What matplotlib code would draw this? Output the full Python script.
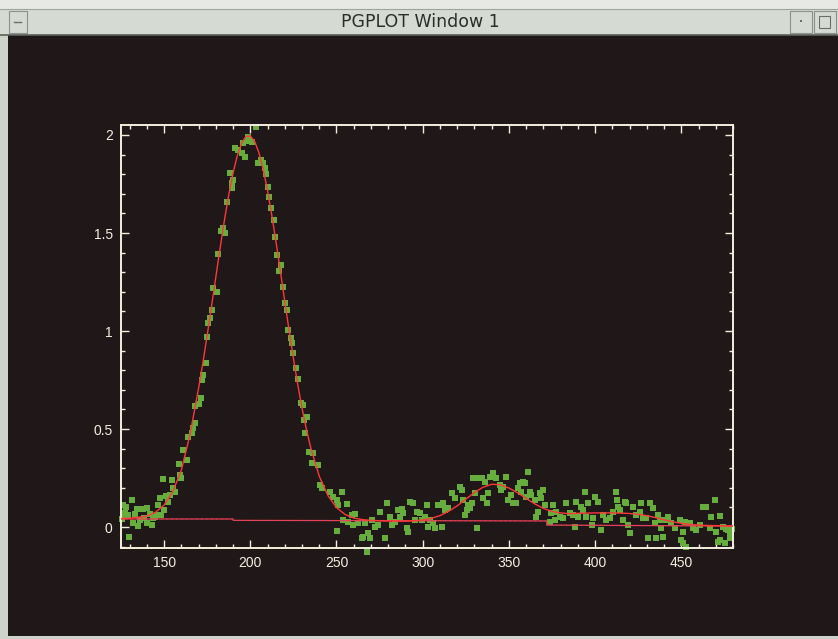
import matplotlib
matplotlib.use("Agg")
import matplotlib.pyplot as plt
from matplotlib.patches import Rectangle
from matplotlib.lines import Line2D
from matplotlib.ticker import MultipleLocator

W, H, DPI = 838, 639, 100

# ---- measured spectrum (channel, flux) ----
chan = [125.5, 126.0, 127.3, 128.0, 129.3, 129.8, 131.6, 132.0, 133.1, 134.0,
        135.0, 136.0, 137.9, 138.5, 139.9, 140.2, 141.8, 142.8, 143.7, 144.7,
        145.7, 146.5, 147.6, 148.3, 149.5, 149.9, 151.0, 152.4, 153.4, 154.4,
        155.0, 156.3, 158.6, 159.2, 159.8, 161.1, 163.5, 163.8, 166.0, 166.6,
        167.9, 168.2, 170.4, 171.2, 171.8, 172.8, 174.3, 174.7, 175.7, 176.6,
        177.6, 178.6, 180.5, 181.4, 183.0, 184.4, 185.3, 186.3, 188.2, 189.2,
        189.6, 190.2, 191.1, 193.0, 195.0, 196.0, 196.9, 198.8, 199.0, 201.0,
        203.3, 204.6, 206.0, 207.6, 208.5, 209.1, 210.0, 211.0, 211.8, 213.5,
        214.3, 215.7, 216.8, 217.6, 218.8, 220.1, 221.1, 222.0, 223.4, 224.0,
        224.9, 226.5, 227.8, 229.2, 230.7, 231.1, 231.7, 232.7, 234.2, 235.8,
        236.5, 239.5, 240.4, 241.4, 246.2, 248.2, 250.1, 250.5, 251.0, 253.0,
        253.6, 256.0, 256.8, 258.8, 259.7, 260.7, 262.6, 264.6, 265.4, 266.5,
        267.7, 268.3, 268.4, 269.4, 270.4, 272.3, 274.2, 275.2, 278.1, 279.1,
        281.0, 282.0, 283.9, 285.8, 286.8, 287.8, 288.7, 290.7, 291.6, 292.6,
        294.5, 295.5, 296.5, 298.4, 299.4, 301.3, 302.3, 303.2, 304.2, 306.1,
        307.1, 309.0, 311.0, 311.3, 311.9, 312.9, 314.8, 316.8, 318.7, 321.6,
        322.6, 323.5, 324.5, 325.5, 326.4, 327.4, 328.4, 329.3, 330.3, 331.3,
        332.2, 334.2, 335.1, 336.1, 337.1, 338.0, 339.0, 340.9, 342.8, 344.8,
        345.7, 346.7, 348.6, 349.6, 351.5, 352.5, 354.4, 355.4, 356.4, 357.3,
        358.3, 359.3, 360.2, 361.2, 362.2, 363.1, 365.1, 366.0, 367.0, 368.0,
        368.9, 369.9, 370.9, 373.8, 374.7, 375.7, 376.7, 377.6, 379.6, 381.5,
        383.4, 385.4, 387.3, 388.3, 389.2, 390.2, 392.1, 393.1, 394.1, 395.0,
        396.0, 398.0, 398.9, 399.9, 401.8, 403.7, 404.7, 406.6, 408.6, 410.5,
        412.4, 412.8, 413.4, 414.4, 416.3, 417.3, 418.2, 419.2, 420.2, 422.1,
        424.0, 426.0, 426.9, 427.9, 429.8, 430.8, 431.8, 433.7, 434.7, 435.6,
        436.6, 437.6, 438.5, 439.5, 441.4, 442.4, 444.3, 446.3, 449.2, 450.1,
        451.1, 451.2, 452.1, 453.0, 455.0, 456.9, 458.8, 460.8, 462.7, 464.6,
        466.6, 467.5, 469.5, 470.4, 471.5, 472.4, 472.6, 474.3, 475.3, 475.5,
        476.0, 477.2, 478.2, 478.4, 479.2]
flux = [0.040, 0.112, 0.070, 0.100, 0.061, -0.049, 0.138, 0.020, 0.066, 0.090,
        0.005, 0.036, 0.090, 0.045, 0.095, 0.019, 0.066, 0.010, 0.044, 0.052,
        0.061, 0.110, 0.146, 0.060, 0.243, 0.087, 0.160, 0.129, 0.163, 0.240,
        0.197, 0.180, 0.320, 0.265, 0.250, 0.393, 0.342, 0.458, 0.478, 0.503,
        0.529, 0.617, 0.628, 0.656, 0.750, 0.776, 0.838, 0.971, 1.039, 1.065,
        1.107, 1.218, 1.200, 1.393, 1.510, 1.524, 1.498, 1.660, 1.804, 1.728,
        1.753, 1.770, 1.932, 1.923, 1.906, 1.960, 1.890, 1.991, 1.970, 1.965,
        2.040, 1.855, 1.872, 1.855, 1.830, 1.800, 1.736, 1.685, 1.626, 1.566,
        1.481, 1.388, 1.308, 1.337, 1.226, 1.144, 1.107, 1.005, 0.963, 0.937,
        0.886, 0.810, 0.753, 0.631, 0.622, 0.546, 0.478, 0.563, 0.384, 0.325,
        0.376, 0.316, 0.214, 0.197, 0.180, 0.155, -0.019, 0.138, 0.112, 0.180,
        0.036, 0.120, 0.027, 0.062, 0.010, 0.067, 0.019, -0.058, -0.050, 0.019,
        -0.128, -0.030, -0.032, -0.056, 0.036, 0.002, 0.010, 0.079, -0.058, 0.124,
        0.053, 0.010, 0.028, 0.087, 0.053, 0.090, 0.070, -0.007, -0.024, 0.129,
        0.121, 0.036, 0.079, 0.070, 0.036, 0.053, 0.112, -0.001, 0.036, 0.022,
        -0.007, 0.112, 0.112, -0.001, 0.121, 0.087, 0.095, 0.172, 0.146, 0.206,
        0.189, 0.138, 0.062, 0.087, 0.112, 0.095, 0.121, 0.249, 0.172, -0.007,
        0.249, 0.249, 0.146, 0.231, 0.121, 0.172, 0.257, 0.274, 0.249, 0.214,
        0.189, 0.206, 0.257, 0.138, 0.163, 0.121, 0.121, 0.197, 0.223, 0.180,
        0.231, 0.223, 0.155, 0.283, 0.180, 0.163, 0.138, 0.053, 0.079, 0.172,
        0.146, 0.189, 0.112, 0.028, 0.070, 0.112, 0.036, 0.079, 0.053, 0.045,
        0.121, 0.070, 0.062, 0.002, 0.129, 0.053, 0.104, 0.087, 0.180, 0.053,
        0.121, 0.010, 0.045, 0.155, 0.129, -0.015, 0.062, 0.036, 0.045, 0.079,
        0.180, 0.138, 0.104, 0.087, 0.036, 0.129, 0.121, 0.010, -0.032, 0.104,
        0.062, 0.079, 0.121, 0.045, 0.045, -0.058, 0.121, 0.095, 0.019, -0.058,
        0.062, 0.036, -0.007, -0.049, 0.036, 0.053, 0.019, -0.007, 0.036, -0.066,
        -0.024, -0.083, 0.028, -0.100, 0.019, -0.007, -0.015, 0.010, 0.104, 0.104,
        -0.007, 0.053, 0.138, -0.024, -0.075, -0.066, 0.056, 0.002, -0.083, -0.080,
        -0.011, -0.015, -0.041, -0.058, -0.011]

# ---- fitted model sampled along the channel axis ----
fit_x = [125, 130, 135, 140, 145, 150, 155, 160, 165, 170, 172.5, 175, 177.5,
         180, 182.5, 185, 187.5, 190, 192.5, 195, 197.5, 200, 202.5, 205, 207.5,
         210, 212.5, 215, 217.5, 220, 222.5, 225, 227.5, 230, 232.5, 235, 240,
         245, 250, 255, 260, 265, 270, 275, 280, 285, 290, 295, 300, 305, 310,
         315, 320, 325, 330, 335, 340, 345, 350, 355, 360, 365, 370, 375, 380,
         385, 390, 395, 400, 405, 410, 415, 420, 425, 430, 435, 440, 445, 450,
         455, 460, 465, 470, 475, 480]
fit_y = [0.043, 0.045, 0.050, 0.055, 0.075, 0.112, 0.180, 0.290, 0.470, 0.708,
         0.838, 0.979, 1.126, 1.275, 1.424, 1.565, 1.695, 1.806, 1.896, 1.959,
         1.993, 1.995, 1.968, 1.910, 1.825, 1.716, 1.589, 1.450, 1.302, 1.151,
         1.003, 0.861, 0.728, 0.607, 0.500, 0.406, 0.259, 0.161, 0.099, 0.064,
         0.046, 0.038, 0.034, 0.032, 0.031, 0.030, 0.030, 0.032, 0.036, 0.044,
         0.058, 0.080, 0.108, 0.142, 0.176, 0.203, 0.218, 0.216, 0.199, 0.175,
         0.146, 0.118, 0.095, 0.080, 0.072, 0.068, 0.070, 0.071, 0.072, 0.072,
         0.072, 0.071, 0.069, 0.065, 0.058, 0.048, 0.037, 0.027, 0.019, 0.013,
         0.010, 0.008, 0.007, 0.006, 0.005]

# ---- continuum level ----
cont_x = [125, 190, 190, 372, 372, 480]
cont_y = [0.041, 0.041, 0.034, 0.031, 0.010, 0.005]

# axis layout
x_lim = (125, 480)
y_lim = (-0.107, 2.051)
x_major, x_minor = 50, 10
y_major, y_minor = 0.5, 0.1

BG = "#1f1718"
FG = "#f3efdf"

fig = plt.figure(figsize=(W / DPI, H / DPI), dpi=DPI, facecolor=BG)


def px_rect(x0, y0, x1, y1, **kw):
    """Rectangle given in pixel coordinates measured from the top-left corner."""
    r = Rectangle((x0 / W, 1 - y1 / H), (x1 - x0) / W, (y1 - y0) / H,
                  transform=fig.transFigure, **kw)
    fig.add_artist(r)
    return r


def px_line(xs, ys, **kw):
    fig.add_artist(Line2D([x / W for x in xs], [1 - y / H for y in ys],
                          transform=fig.transFigure, **kw))


# window decoration
px_rect(0, 0, W, 35, facecolor="#d5dad3", edgecolor="none")
px_rect(0, 0, W, 9, facecolor="#e6e9e4", edgecolor="none")
px_line([0, W], [9, 9], color="#9ea39c", lw=0.8)
px_line([0, W], [34.5, 34.5], color="#5c605a", lw=1.2)
px_rect(0, 35, 8, H, facecolor="#cdd2cb", edgecolor="none")
px_rect(0, H - 3, W, H, facecolor="#cdd2cb", edgecolor="none")
# buttons
px_rect(9, 11, 27, 33, facecolor="#d5dad3", edgecolor="#8d918b", lw=0.8)
px_line([14, 21], [22, 22], color="#6a6e68", lw=1.0)
px_rect(790, 11, 812, 33, facecolor="#d5dad3", edgecolor="#8d918b", lw=0.8)
px_rect(800, 20, 802, 22, facecolor="#6a6e68", edgecolor="none")
px_rect(814, 11, 836, 33, facecolor="#d5dad3", edgecolor="#8d918b", lw=0.8)
px_rect(819, 16, 830, 28, facecolor="none", edgecolor="#6a6e68", lw=0.8)
fig.text(420 / W, 1 - 22 / H, "PGPLOT Window 1", ha="center", va="center",
         fontsize=12.5, color="#2b2d2a", family="DejaVu Sans")

# plot area
ax = fig.add_axes([121 / W, 1 - 548 / H, (733 - 121) / W, (548 - 125) / H])
ax.set_facecolor(BG)
ax.set_xlim(*x_lim)
ax.set_ylim(*y_lim)

ax.scatter(chan, flux, marker="s", s=20, color="#66ad3d", linewidths=0,
           zorder=2, clip_on=False)
ax.plot(cont_x, cont_y, color="#ff3838", lw=0.9, zorder=3)
ax.plot(cont_x, cont_y, color="#6a6cff", lw=0.6, ls=(0, (2, 4)), alpha=0.7,
        zorder=3)
ax.plot(fit_x, fit_y, color="#ff3838", lw=1.0, zorder=4)

for side in ax.spines.values():
    side.set_color(FG)
    side.set_linewidth(1.4)

ax.xaxis.set_major_locator(MultipleLocator(x_major))
ax.xaxis.set_minor_locator(MultipleLocator(x_minor))
ax.yaxis.set_major_locator(MultipleLocator(y_major))
ax.yaxis.set_minor_locator(MultipleLocator(y_minor))
ax.tick_params(which="both", direction="in", colors=FG, top=True, right=True,
               width=1.0)
ax.tick_params(which="major", length=6, pad=6, labelsize=10)
ax.tick_params(which="minor", length=3)
ax.yaxis.set_major_formatter(plt.FuncFormatter(lambda v, p: f"{v:g}"))
for lab in ax.get_xticklabels() + ax.get_yticklabels():
    lab.set_family("Liberation Sans")
    lab.set_color(FG)

fig.savefig("out.png", dpi=DPI, facecolor=BG)
